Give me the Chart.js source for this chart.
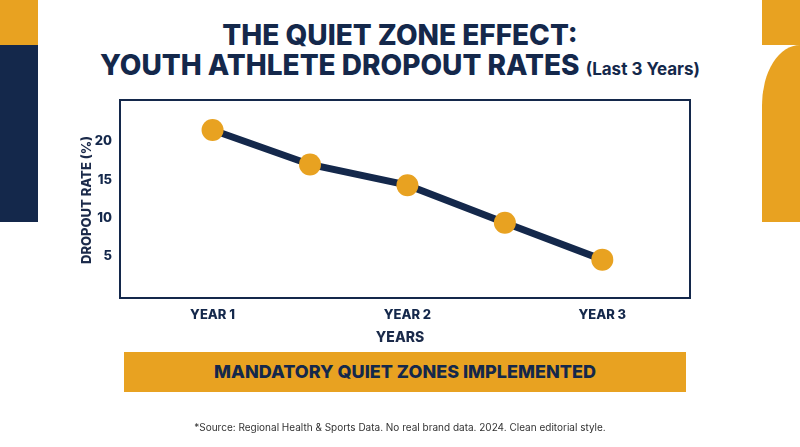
<!DOCTYPE html>
<html><head><meta charset="utf-8">
<script src="https://cdn.jsdelivr.net/npm/chart.js"></script>
<style>
body{margin:0;width:800px;height:447px;background:#fff;position:relative;overflow:hidden;font-family:Inter,"Open Sans",sans-serif;color:#1b2a4a}
.a{position:absolute}
</style></head><body>
<div class="a" style="left:0;top:0;width:38px;height:45px;background:#e8a221"></div>
<div class="a" style="left:0;top:45px;width:38px;height:177px;background:#14284b"></div>
<div class="a" style="left:762px;top:0;width:38px;height:45px;background:#e8a221"></div>
<div class="a" style="left:762px;top:45px;width:38px;height:177px;background:#e8a221;border-top-left-radius:38px 60px"></div>
<div class="a" style="left:0;top:20px;width:800px;text-align:center;font-weight:800;font-size:28px;line-height:30px;color:#14284b">THE QUIET ZONE EFFECT:<br>YOUTH ATHLETE DROPOUT RATES <span style="font-size:17px;font-weight:700">(Last 3 Years)</span></div>
<div class="a" style="left:0;top:0;width:800px;height:447px"><canvas id="c" width="800" height="447"></canvas></div>
<div class="a" style="left:0;top:328px;width:800px;text-align:center;font-weight:800;font-size:14px">YEARS</div>
<div class="a" style="left:86px;top:200px;transform:translate(-50%,-50%) rotate(-90deg);font-weight:800;font-size:13px;white-space:nowrap">DROPOUT RATE (%)</div>
<div class="a" style="left:124px;top:352px;width:562px;height:40px;background:#e8a221;text-align:center;line-height:40px;font-weight:800;font-size:18px;color:#14284b">MANDATORY QUIET ZONES IMPLEMENTED</div>
<div class="a" style="left:0;top:421px;width:800px;text-align:center;font-size:10px;color:#333">*Source: Regional Health &amp; Sports Data. No real brand data. 2024. Clean editorial style.</div>
<script>
const positions=[0,1,2,3,4];
const values=[21.5,17,14.3,9.4,4.6];
const tickLabels={0:'YEAR 1',2:'YEAR 2',4:'YEAR 3'};
const yTicks=[5,10,15,20];
const boxPlugin={id:'box',afterDraw(ch){const a=ch.chartArea,c=ch.ctx;c.save();c.strokeStyle='#14284b';c.lineWidth=2;c.strokeRect(a.left,a.top,a.right-a.left,a.bottom-a.top);c.restore();}};
new Chart(document.getElementById('c'),{type:'line',
data:{datasets:[{data:positions.map((x,i)=>({x,y:values[i]})),borderColor:'#14284b',borderWidth:7,pointRadius:11,pointHoverRadius:11,pointBackgroundColor:'#e8a221',pointBorderWidth:0}]},
options:{responsive:false,animation:false,layout:{padding:{top:100,right:110,left:0,bottom:0}},
plugins:{legend:{display:false},tooltip:{enabled:false}},
scales:{x:{type:'linear',min:-0.95,max:4.9,grid:{display:false,drawTicks:false},border:{display:false},afterFit(s){s.height=149},
afterBuildTicks(s){s.ticks=[0,2,4].map(v=>({value:v}))},
ticks:{callback:v=>tickLabels[v]||'',color:'#14284b',font:{family:'Inter',weight:'800',size:13},padding:9,maxRotation:0}},
y:{min:-0.4,max:25.4,grid:{display:false,drawTicks:false},border:{display:false},afterFit(s){s.width=120},
afterBuildTicks(s){s.ticks=yTicks.map(v=>({value:v}))},
ticks:{color:'#14284b',font:{family:'Inter',weight:'800',size:13},padding:8}}}},
plugins:[boxPlugin]});
</script></body></html>
